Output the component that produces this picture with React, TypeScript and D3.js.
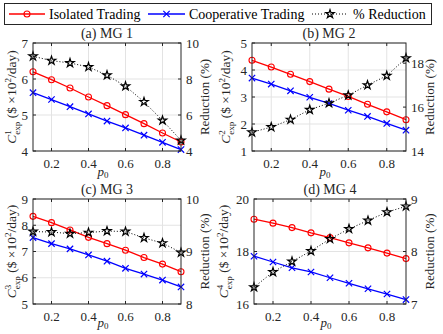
import React from "react";
import * as d3 from "d3";

const p0 = [0.1, 0.2, 0.3, 0.4, 0.5, 0.6, 0.7, 0.8, 0.9];
const xTicks = [0.2, 0.4, 0.6, 0.8];

const isoMG1 = [6.2, 5.98, 5.75, 5.5, 5.26, 5.01, 4.76, 4.5, 4.25];
const coopMG1 = [5.62, 5.43, 5.23, 5.03, 4.83, 4.64, 4.44, 4.24, 4.04];
const redMG1 = [9.26, 9.02, 8.89, 8.67, 8.21, 7.6, 6.73, 5.7, 4.59];

const isoMG2 = [4.36, 4.11, 3.84, 3.57, 3.29, 3.02, 2.73, 2.45, 2.16];
const coopMG2 = [3.7, 3.48, 3.23, 2.99, 2.76, 2.51, 2.28, 2.02, 1.77];
const redMG2 = [14.85, 15.09, 15.43, 15.88, 16.18, 16.54, 17.0, 17.43, 18.23];

const isoMG3 = [8.34, 8.1, 7.82, 7.54, 7.3, 7.05, 6.77, 6.52, 6.23];
const coopMG3 = [7.53, 7.3, 7.1, 6.87, 6.63, 6.36, 6.14, 5.91, 5.65];
const redMG3 = [9.38, 9.37, 9.34, 9.36, 9.39, 9.38, 9.26, 9.16, 8.98];

const isoMG4 = [19.23, 19.08, 18.91, 18.71, 18.53, 18.33, 18.14, 17.94, 17.73];
const coopMG4 = [17.82, 17.6, 17.38, 17.22, 17.0, 16.79, 16.58, 16.38, 16.17];
const redMG4 = [7.32, 7.61, 7.81, 8.01, 8.24, 8.43, 8.59, 8.75, 8.86];

const panels = [
  { title: "(a) MG 1", idx: "1", iso: isoMG1, coop: coopMG1, red: redMG1,
    left: [4, 7], leftTicks: [4, 5, 6, 7], right: [4, 10], rightTicks: [4, 6, 8, 10],
    x0: 33, x1: 181, y0: 43, y1: 151, labelX: 16 },
  { title: "(b) MG 2", idx: "2", iso: isoMG2, coop: coopMG2, red: redMG2,
    left: [1, 5], leftTicks: [1, 2, 3, 4, 5], right: [14, 18.92], rightTicks: [14, 16, 18],
    x0: 252, x1: 406, y0: 43, y1: 151, labelX: 230 },
  { title: "(c) MG 3", idx: "3", iso: isoMG3, coop: coopMG3, red: redMG3,
    left: [5, 9], leftTicks: [5, 6, 7, 8, 9], right: [8, 10], rightTicks: [8, 9, 10],
    x0: 33, x1: 181, y0: 199, y1: 304, labelX: 16 },
  { title: "(d) MG 4", idx: "4", iso: isoMG4, coop: coopMG4, red: redMG4,
    left: [16, 20], leftTicks: [16, 18, 20], right: [7, 9], rightTicks: [7, 8, 9],
    x0: 254, x1: 406, y0: 199, y1: 304, labelX: 228 },
];

const font = "Liberation Serif, DejaVu Serif, serif";
const axisColor = "#262626";
const starPath = d3.symbol(d3.symbolStar, 22)()!;
const crossPath = d3.symbol(d3.symbolTimes, 28)()!;

const Panel = ({ p, bottom }: { p: typeof panels[0]; bottom: boolean }) => {
  const x = d3.scaleLinear().domain([0.1, 0.9]).range([p.x0, p.x1]);
  const yl = d3.scaleLinear().domain(p.left).range([p.y1, p.y0]);
  const yr = d3.scaleLinear().domain(p.right).range([p.y1, p.y0]);
  const lineL = d3.line<number>().x((d, i) => x(p0[i])).y((d) => yl(d));
  const lineR = d3.line<number>().x((d, i) => x(p0[i])).y((d) => yr(d));
  const cx = (p.x0 + p.x1) / 2;
  const cy = (p.y0 + p.y1) / 2;
  return (
    <g style={{ fontFamily: font }}>
      {xTicks.map((t) => (
        <line key={"gx" + t} x1={x(t)} x2={x(t)} y1={p.y0} y2={p.y1} stroke="#e3e3e3" strokeWidth={1} />
      ))}
      {p.leftTicks.map((t) => (
        <line key={"gy" + t} x1={p.x0} x2={p.x1} y1={yl(t)} y2={yl(t)} stroke="#e3e3e3" strokeWidth={1} />
      ))}
      <path d={lineL(p.iso)!} fill="none" stroke="#ff0000" strokeWidth={1.3} />
      <path d={lineL(p.coop)!} fill="none" stroke="#0000ff" strokeWidth={1.3} />
      <path d={lineR(p.red)!} fill="none" stroke="#000" strokeWidth={1} strokeDasharray="1,2" />
      {p.iso.map((d, i) => (
        <circle key={"c" + i} cx={x(p0[i])} cy={yl(d)} r={3} fill="none" stroke="#ff0000" strokeWidth={1.1} />
      ))}
      {p.coop.map((d, i) => (
        <path key={"x" + i} d={crossPath} transform={`translate(${x(p0[i])},${yl(d)})`} stroke="#0000ff" strokeWidth={1.2} fill="none" />
      ))}
      {p.red.map((d, i) => (
        <path key={"s" + i} d={starPath} transform={`translate(${x(p0[i])},${yr(d)})`} stroke="#000" strokeWidth={1.2} fill="none" />
      ))}
      <rect x={p.x0} y={p.y0} width={p.x1 - p.x0} height={p.y1 - p.y0} fill="none" stroke={axisColor} strokeWidth={1} />
      {xTicks.map((t) => (
        <g key={"xt" + t}>
          <line x1={x(t)} x2={x(t)} y1={p.y1} y2={p.y1 - 3} stroke={axisColor} />
          <line x1={x(t)} x2={x(t)} y1={p.y0} y2={p.y0 + 3} stroke={axisColor} />
          <text x={x(t)} y={p.y1 + 17} textAnchor="middle" fontSize={13} fill={axisColor}>{t.toFixed(1)}</text>
        </g>
      ))}
      {p.leftTicks.map((t) => (
        <g key={"lt" + t}>
          <line x1={p.x0} x2={p.x0 + 3} y1={yl(t)} y2={yl(t)} stroke={axisColor} />
          <text x={p.x0 - 5} y={yl(t) + 4.5} textAnchor="end" fontSize={13} fill={axisColor}>{t}</text>
        </g>
      ))}
      {p.rightTicks.map((t) => (
        <g key={"rt" + t}>
          <line x1={p.x1} x2={p.x1 - 3} y1={yr(t)} y2={yr(t)} stroke={axisColor} />
          <text x={p.x1 + 5} y={yr(t) + 4.5} textAnchor="start" fontSize={13} fill={axisColor}>{t}</text>
        </g>
      ))}
      <text x={cx} y={p.y0 - 5} textAnchor="middle" fontSize={14} fill={axisColor}>{p.title}</text>
      <text x={cx - 4} y={p.y1 + (bottom ? 23 : 25)} textAnchor="middle" fontSize={13} fill={axisColor}>
        <tspan fontStyle="italic">p</tspan>
        <tspan fontSize={9} dy={2}>0</tspan>
      </text>
      <text transform={`translate(${p.labelX},${cy}) rotate(-90)`} textAnchor="middle" fontSize={13.5} fill={axisColor}>
        <tspan fontStyle="italic">C</tspan>
        <tspan fontSize={9} dy={-5}>{p.idx}</tspan>
        <tspan fontSize={9} dx={-4.5} dy={9}>exp</tspan>
        <tspan dy={-4}> ($ ×10</tspan>
        <tspan fontSize={9} dy={-5}>2</tspan>
        <tspan dy={5}>/day)</tspan>
      </text>
      <text transform={`translate(${p.x1 + 28},${cy}) rotate(-90)`} textAnchor="middle" fontSize={13} fill={axisColor}>
        Reduction (%)
      </text>
    </g>
  );
};

const Legend = () => (
  <g style={{ fontFamily: font }} fontSize={14} fill="#000">
    <rect x={4.5} y={3.5} width={427} height={21} fill="#fff" stroke="#262626" strokeWidth={1} />
    <line x1={9} x2={45} y1={14} y2={14} stroke="#ff0000" strokeWidth={1.3} />
    <circle cx={27} cy={14} r={3} fill="none" stroke="#ff0000" strokeWidth={1.1} />
    <text x={49} y={18.5}>Isolated Trading</text>
    <line x1={148} x2={185} y1={14} y2={14} stroke="#0000ff" strokeWidth={1.3} />
    <path d={crossPath} transform="translate(166.5,14)" stroke="#0000ff" strokeWidth={1.2} fill="none" />
    <text x={189} y={18.5}>Cooperative Trading</text>
    <line x1={312} x2={348} y1={14} y2={14} stroke="#000" strokeWidth={1} strokeDasharray="1,2" />
    <path d={starPath} transform="translate(330,14)" stroke="#000" strokeWidth={1.2} fill="none" />
    <text x={353} y={18.5}>% Reduction</text>
  </g>
);

export default function App() {
  return (
    <svg width={443} height={334} style={{ position: "absolute", left: 0, top: 0, background: "#fff" }}>
      {panels.map((p, i) => (
        <Panel key={p.title} p={p} bottom={i >= 2} />
      ))}
      <Legend />
    </svg>
  );
}
